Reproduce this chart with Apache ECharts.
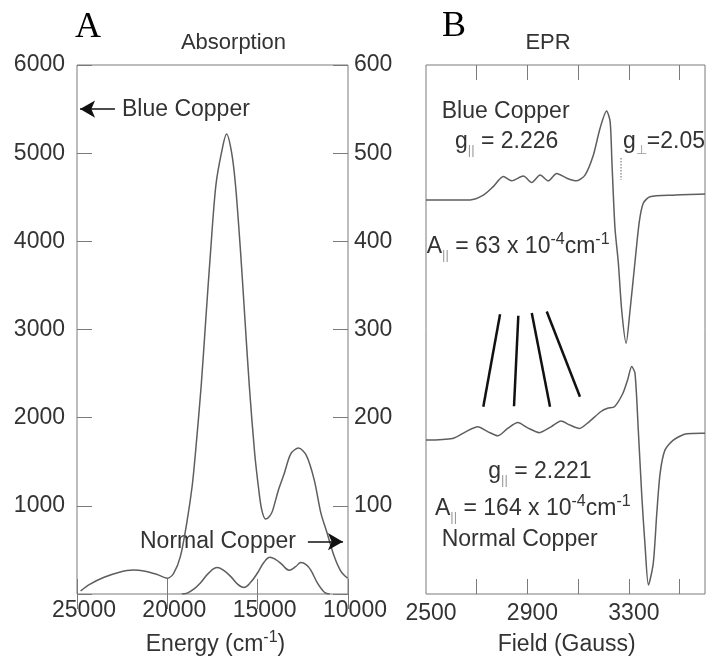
<!DOCTYPE html>
<html>
<head>
<meta charset="utf-8">
<script src="https://cdn.jsdelivr.net/npm/echarts@6/dist/echarts.min.js"></script>
<style>
  html, body { margin: 0; padding: 0; background: #fff; }
  #chart { width: 707px; height: 657px; }
</style>
</head>
<body>
<div id="chart"></div>
<script>
// A: absorption, energy in cm-1
const absBlueEnergy = [24800, 24300, 23500, 22700, 21900, 21300, 20600, 20000, 19650, 19280, 18906, 18628, 18444, 18128, 17872, 17611, 17317, 17000, 16722, 16444, 16222, 15944, 15704, 15461, 15167, 14961, 14780, 14556, 14350, 14183, 13850, 13539, 13167, 12740, 12300, 11870, 11500, 11200, 10759, 10400, 10017]
const absBlueValue = [35, 110, 190, 245, 272, 262, 225, 180, 235, 424, 830, 1219, 1599, 2356, 3114, 3872, 4628, 5008, 5216, 5008, 4628, 3872, 3114, 2356, 1599, 1219, 960, 850, 880, 940, 1180, 1360, 1590, 1656, 1570, 1295, 917, 720, 424, 260, 178]
// normal copper is read on the right axis (0-600)
const absNormalEnergy = [19200, 18900, 18500, 18170, 17700, 17240, 16900, 16500, 16100, 15760, 15400, 15020, 14650, 14320, 14000, 13720, 13260, 12900, 12610, 12300, 12060, 11680, 11400, 11220, 11000]
const absNormalValue = [0, 1, 6, 12.5, 24, 30, 27, 20, 11, 7.5, 13, 23.5, 36, 41.7, 39, 34.8, 27, 31, 35.6, 33, 27, 12, 4, 0.8, 0]

// B: EPR, field in Gauss, signal in arbitrary units
const eprBlueField = [2500, 2674, 2726, 2765, 2805, 2838, 2884, 2917, 2950, 2982, 3015, 3055, 3094, 3127, 3160, 3186, 3212, 3226, 3233, 3245, 3258, 3272, 3289, 3304, 3324, 3341, 3357, 3383, 3475, 3600]
const eprBlueValue = [74.5, 74.5, 75.4, 77.0, 78.9, 78.1, 79.0, 77.8, 79.2, 78.1, 79.5, 78.6, 78.1, 79.2, 83.0, 88.0, 91.3, 89.3, 81.7, 69.2, 62.8, 53.4, 47.4, 53.4, 62.8, 70.4, 73.9, 75.1, 75.4, 75.6]
const eprNormalField = [2500, 2605, 2658, 2704, 2743, 2783, 2822, 2862, 2901, 2947, 2993, 3032, 3065, 3105, 3144, 3190, 3216, 3243, 3276, 3295, 3311, 3324, 3337, 3351, 3364, 3377, 3396, 3410, 3423, 3442, 3475, 3528, 3587, 3600]
const eprNormalValue = [29.1, 29.4, 30.7, 31.6, 30.7, 29.9, 31.3, 32.4, 31.4, 30.5, 31.6, 32.7, 32.0, 31.3, 32.6, 34.5, 35.1, 35.4, 37.9, 40.5, 43.0, 41.7, 31.0, 18.4, 8.9, 1.7, 5.8, 15.3, 22.8, 27.2, 29.1, 30.3, 30.4, 30.4]

// tick labels
const energyTicks = [25000, 20000, 15000, 10000]
const fieldLabels = [2500, 2900, 3300]
const fieldTicks = [2700, 2900, 3100, 3300, 3500]

// hyperfine marker lines [field, a.u.] pairs
const hyperfineLines = [
  [[2792, 52.9], [2726, 35.4]],
  [[2864, 52.6], [2847, 35.5]],
  [[2917, 53.1], [2989, 35.4]],
  [[2976, 53.4], [3107, 37.3]]
]

const zip = (xs, ys) => xs.map((x, i) => [x, ys[i]])

const FONT = '"Liberation Sans", Arial, Helvetica, sans-serif'
const TXT = '#333'
const FRAME = '#7a7a7a'
const CURVE = '#5e5e5e'

const chart = echarts.init(document.getElementById('chart'))

function tickAxis(extra) {
  return Object.assign({
    type: 'value',
    axisLine: { show: false },
    axisTick: { inside: true, length: 15, lineStyle: { color: FRAME } },
    splitLine: { show: false },
    axisLabel: { color: TXT, fontSize: 23, fontFamily: FONT }
  }, extra)
}

const rich = {
  sub: { fontSize: 13, fill: '#999', verticalAlign: 'bottom' },
  sup: { fontSize: 16, fill: TXT, verticalAlign: 'top' }
}

function label(text, x, y, opts) {
  return {
    type: 'text',
    silent: true,
    style: Object.assign({
      text: text,
      x: x,
      y: y,
      fill: TXT,
      font: '23px ' + FONT,
      lineHeight: 30,
      textAlign: 'left',
      textVerticalAlign: 'middle',
      rich: rich
    }, opts || {})
  }
}

chart.setOption({
  animation: false,
  backgroundColor: '#fff',
  grid: [
    { left: 77, top: 65, width: 271, height: 529, show: true, borderColor: FRAME, borderWidth: 1 },
    { left: 426, top: 65, width: 279, height: 529, show: true, borderColor: FRAME, borderWidth: 1 }
  ],
  xAxis: [
    tickAxis({ gridIndex: 0, position: 'bottom', inverse: true, min: 10000, max: 25000, interval: 5000,
      axisLabel: { color: TXT, fontSize: 23, fontFamily: FONT, margin: 5, padding: [0, 0, 0, 14],
        formatter: v => energyTicks.indexOf(v) >= 0 ? String(v) : '' } }),
    tickAxis({ gridIndex: 0, position: 'top', inverse: true, min: 10000, max: 25000, interval: 5000,
      axisLabel: { show: false } }),
    tickAxis({ gridIndex: 1, position: 'bottom', min: 2500, max: 3600,
      axisTick: { inside: true, length: 15, lineStyle: { color: FRAME }, customValues: fieldTicks },
      axisLabel: { color: TXT, fontSize: 23, fontFamily: FONT, margin: 8, padding: [0, 0, 0, 10],
        customValues: fieldLabels, formatter: v => String(v) } }),
    tickAxis({ gridIndex: 1, position: 'top', min: 2500, max: 3600,
      axisTick: { inside: true, length: 15, lineStyle: { color: FRAME }, customValues: fieldTicks },
      axisLabel: { show: false } })
  ],
  yAxis: [
    tickAxis({ gridIndex: 0, position: 'left', min: 0, max: 6000, interval: 1000,
      axisLabel: { color: TXT, fontSize: 23, fontFamily: FONT, margin: 12, formatter: v => v === 0 ? '' : String(v) } }),
    tickAxis({ gridIndex: 0, position: 'right', min: 0, max: 600, interval: 100,
      axisLabel: { color: TXT, fontSize: 23, fontFamily: FONT, margin: 6, formatter: v => v === 0 ? '' : String(v) } }),
    { type: 'value', gridIndex: 1, min: 0, max: 100, show: false }
  ],
  series: [
    {
      name: 'Blue Copper absorption',
      type: 'line',
      xAxisIndex: 0, yAxisIndex: 0,
      data: zip(absBlueEnergy, absBlueValue),
      smooth: 0.3, showSymbol: false,
      lineStyle: { color: CURVE, width: 1.5 },
      markLine: {
        silent: true,
        symbol: ['none', 'arrow'],
        symbolSize: [13, 15],
        label: { show: false },
        lineStyle: { color: '#111', type: 'solid', width: 1.5 },
        data: [
          [{ coord: [22900, 5500] }, { coord: [24830, 5500] }],
          [{ coord: [12220, 594] }, { coord: [10280, 594] }]
        ]
      }
    },
    {
      name: 'Normal Copper absorption',
      type: 'line',
      xAxisIndex: 0, yAxisIndex: 1,
      data: zip(absNormalEnergy, absNormalValue),
      smooth: 0.4, showSymbol: false,
      lineStyle: { color: CURVE, width: 1.5 }
    },
    {
      name: 'Blue Copper EPR',
      type: 'line',
      xAxisIndex: 2, yAxisIndex: 2,
      data: zip(eprBlueField, eprBlueValue),
      smooth: 0.25, showSymbol: false,
      lineStyle: { color: CURVE, width: 1.5 },
      markLine: {
        silent: true,
        symbol: 'none',
        label: { show: false },
        data: [[
          { coord: [3268, 82.4], lineStyle: { color: '#999', type: 'dotted', width: 1.5 } },
          { coord: [3268, 78.3] }
        ]]
      }
    },
    {
      name: 'Normal Copper EPR',
      type: 'line',
      xAxisIndex: 2, yAxisIndex: 2,
      data: zip(eprNormalField, eprNormalValue),
      smooth: 0.25, showSymbol: false,
      lineStyle: { color: CURVE, width: 1.5 },
      markLine: {
        silent: true,
        symbol: 'none',
        label: { show: false },
        lineStyle: { color: '#111', type: 'solid', width: 2.5 },
        data: hyperfineLines.map(l => [{ coord: l[0] }, { coord: l[1] }])
      }
    }
  ],
  graphic: [
    label('A', 88, 28, { font: '36px "Liberation Serif", "Times New Roman", serif', textAlign: 'center', fill: '#000' }),
    label('B', 454, 27, { font: '36px "Liberation Serif", "Times New Roman", serif', textAlign: 'center', fill: '#000' }),
    label('Absorption', 233.5, 43, { textAlign: 'center', font: '22px ' + FONT }),
    label('EPR', 548, 43, { textAlign: 'center', font: '22px ' + FONT }),
    label('Energy (cm{sup|-1})', 215.5, 645, { textAlign: 'center' }),
    label('Field (Gauss)', 566.7, 645, { textAlign: 'center' }),
    label('Blue Copper', 122, 110),
    label('Normal Copper', 140, 542),
    label('Blue Copper', 441.7, 112),
    label('g{sub|||} = 2.226', 455, 142),
    label('g{sub|⊥}=2.05', 623, 142),
    label('A{sub|||} = 63 x 10{sup|-4}cm{sup|-1}', 426.7, 247),
    label('g{sub|||} = 2.221', 488.3, 472),
    label('A{sub|||} = 164 x 10{sup|-4}cm{sup|-1}', 435, 508.5),
    label('Normal Copper', 441.7, 540)
  ]
})
</script>
</body>
</html>
